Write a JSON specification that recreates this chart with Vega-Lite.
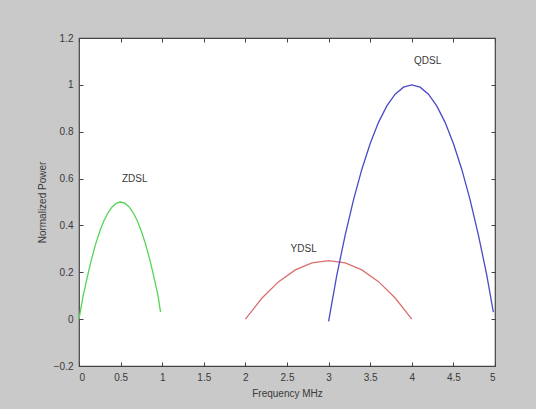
{
  "$schema": "https://vega.github.io/schema/vega-lite/v6.json",
  "width": 416,
  "height": 328,
  "autosize": {"type": "none"},
  "padding": {"left": 79, "top": 38, "right": 41, "bottom": 43},
  "background": "#c9c9c9",
  "config": {
    "view": {"fill": "white", "stroke": "#444444", "strokeWidth": 1.2},
    "font": "Liberation Sans",
    "axis": {
      "domain": false,
      "grid": false,
      "tickColor": "#444444",
      "tickSize": -4,
      "labelFont": "Liberation Sans",
      "labelFontSize": 10,
      "labelColor": "#3a3a3a",
      "titleFont": "Liberation Sans",
      "titleFontSize": 10,
      "titleFontWeight": "normal",
      "titleColor": "#3a3a3a"
    }
  },
  "resolve": {"axis": {"x": "independent", "y": "independent"}},
  "layer": [
    {
      "data": {
        "values": [
          {"band": "ZDSL", "f": 0.0, "p": 0.0},
          {"band": "ZDSL", "f": 0.05, "p": 0.1},
          {"band": "ZDSL", "f": 0.1, "p": 0.18},
          {"band": "ZDSL", "f": 0.15, "p": 0.255},
          {"band": "ZDSL", "f": 0.2, "p": 0.32},
          {"band": "ZDSL", "f": 0.25, "p": 0.375},
          {"band": "ZDSL", "f": 0.3, "p": 0.42},
          {"band": "ZDSL", "f": 0.35, "p": 0.455},
          {"band": "ZDSL", "f": 0.4, "p": 0.48},
          {"band": "ZDSL", "f": 0.45, "p": 0.495},
          {"band": "ZDSL", "f": 0.5, "p": 0.5},
          {"band": "ZDSL", "f": 0.55, "p": 0.495},
          {"band": "ZDSL", "f": 0.6, "p": 0.48},
          {"band": "ZDSL", "f": 0.65, "p": 0.455},
          {"band": "ZDSL", "f": 0.7, "p": 0.42},
          {"band": "ZDSL", "f": 0.75, "p": 0.375},
          {"band": "ZDSL", "f": 0.8, "p": 0.32},
          {"band": "ZDSL", "f": 0.85, "p": 0.255},
          {"band": "ZDSL", "f": 0.9, "p": 0.18},
          {"band": "ZDSL", "f": 0.95, "p": 0.1},
          {"band": "ZDSL", "f": 0.98, "p": 0.03},
          {"band": "YDSL", "f": 2.0, "p": 0.0},
          {"band": "YDSL", "f": 2.2, "p": 0.09},
          {"band": "YDSL", "f": 2.4, "p": 0.16},
          {"band": "YDSL", "f": 2.6, "p": 0.21},
          {"band": "YDSL", "f": 2.8, "p": 0.24},
          {"band": "YDSL", "f": 3.0, "p": 0.25},
          {"band": "YDSL", "f": 3.2, "p": 0.24},
          {"band": "YDSL", "f": 3.4, "p": 0.21},
          {"band": "YDSL", "f": 3.6, "p": 0.16},
          {"band": "YDSL", "f": 3.8, "p": 0.09},
          {"band": "YDSL", "f": 4.0, "p": 0.0},
          {"band": "QDSL", "f": 3.0, "p": -0.01},
          {"band": "QDSL", "f": 3.1, "p": 0.19},
          {"band": "QDSL", "f": 3.2, "p": 0.36},
          {"band": "QDSL", "f": 3.3, "p": 0.51},
          {"band": "QDSL", "f": 3.4, "p": 0.64},
          {"band": "QDSL", "f": 3.5, "p": 0.75},
          {"band": "QDSL", "f": 3.6, "p": 0.84},
          {"band": "QDSL", "f": 3.7, "p": 0.91},
          {"band": "QDSL", "f": 3.8, "p": 0.96},
          {"band": "QDSL", "f": 3.9, "p": 0.99},
          {"band": "QDSL", "f": 4.0, "p": 1.0},
          {"band": "QDSL", "f": 4.1, "p": 0.99},
          {"band": "QDSL", "f": 4.2, "p": 0.96},
          {"band": "QDSL", "f": 4.3, "p": 0.91},
          {"band": "QDSL", "f": 4.4, "p": 0.84},
          {"band": "QDSL", "f": 4.5, "p": 0.75},
          {"band": "QDSL", "f": 4.6, "p": 0.64},
          {"band": "QDSL", "f": 4.7, "p": 0.51},
          {"band": "QDSL", "f": 4.8, "p": 0.36},
          {"band": "QDSL", "f": 4.9, "p": 0.19},
          {"band": "QDSL", "f": 4.98, "p": 0.03}
        ]
      },
      "mark": {"type": "line", "strokeWidth": 1.3},
      "encoding": {
        "x": {
          "field": "f", "type": "quantitative",
          "scale": {"domain": [0, 5], "nice": false, "zero": false},
          "axis": {"orient": "bottom", "title": "Frequency MHz", "values": [0, 0.5, 1, 1.5, 2, 2.5, 3, 3.5, 4, 4.5, 5], "format": ".1~f", "labelPadding": 10, "titlePadding": 6}
        },
        "y": {
          "field": "p", "type": "quantitative",
          "scale": {"domain": [-0.2, 1.2], "nice": false, "zero": false},
          "axis": {"orient": "left", "title": "Normalized Power", "values": [-0.2, 0, 0.2, 0.4, 0.6, 0.8, 1, 1.2], "format": ".1~f", "labelPadding": 10, "titlePadding": 6}
        },
        "color": {
          "field": "band", "type": "nominal",
          "scale": {"domain": ["ZDSL", "YDSL", "QDSL"], "range": ["#55d455", "#d8706e", "#4a4ac8"]},
          "legend": null
        },
        "detail": {"field": "band"}
      }
    },
    {
      "mark": {"type": "rule", "color": "#333333", "strokeWidth": 1.3},
      "encoding": {
        "y": {"datum": 0, "type": "quantitative", "axis": null}
      }
    },
    {
      "data": {
        "values": [
          {"name": "ZDSL", "f": 0.67, "p": 0.6},
          {"name": "YDSL", "f": 2.7, "p": 0.3},
          {"name": "QDSL", "f": 4.19, "p": 1.1}
        ]
      },
      "mark": {"type": "text", "font": "Liberation Sans", "fontSize": 10, "color": "#3a3a3a"},
      "encoding": {
        "x": {"field": "f", "type": "quantitative", "axis": {"orient": "top", "title": null, "labels": false, "values": [0, 0.5, 1, 1.5, 2, 2.5, 3, 3.5, 4, 4.5, 5]}},
        "y": {"field": "p", "type": "quantitative", "axis": {"orient": "right", "title": null, "labels": false, "values": [-0.2, 0, 0.2, 0.4, 0.6, 0.8, 1, 1.2]}},
        "text": {"field": "name"}
      }
    }
  ]
}
